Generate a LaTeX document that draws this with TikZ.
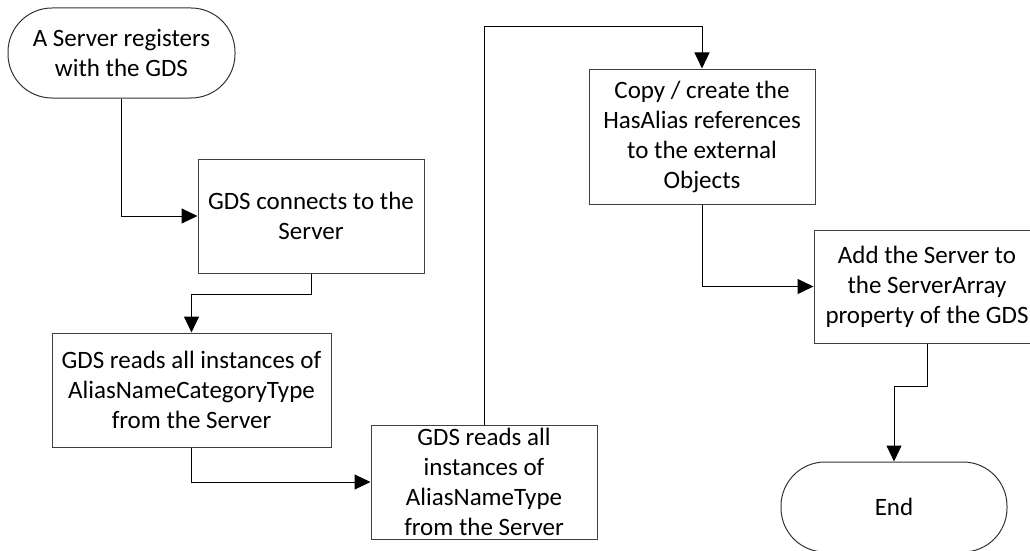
\documentclass[tikz,border=0pt]{standalone}
\usepackage{fontspec}
\setmainfont{Carlito}
\usetikzlibrary{arrows.meta}
\begin{document}
\begin{tikzpicture}[x=1pt,y=-1pt,
  txt/.style={font=\fontsize{25}{30}\selectfont, align=center, inner sep=0pt},
  procbox/.style={txt, draw=black!75, line width=1pt, rectangle},
  termbox/.style={txt, draw=black!80, line width=1pt, rectangle, rounded corners=44pt},
  conn/.style={draw=black, line width=1pt, -{Triangle[length=16pt,width=15pt]}}]
\useasboundingbox (0,0) rectangle (1030,551);
\node[termbox, minimum width=227pt, minimum height=90pt] (start) at (121.5,53) {A Server registers\\with the GDS};
\node[procbox, minimum width=226pt, minimum height=114pt] (b2) at (311,216) {GDS connects to the\\Server};
\node[procbox, minimum width=279pt, minimum height=114pt] (b3) at (191.5,390) {GDS reads all instances of\\AliasNameCategoryType\\from the Server};
\node[procbox, minimum width=226pt, minimum height=114pt] (b4) at (484,482) {GDS reads all\\instances of\\AliasNameType\\from the Server};
\node[procbox, minimum width=226pt, minimum height=135pt] (b5) at (702,136.5) {Copy / create the\\HasAlias references\\to the external\\Objects};
\node[procbox, minimum width=226pt, minimum height=113pt] (b6) at (927,286.5) {Add the Server to\\the ServerArray\\property of the GDS};
\node[termbox, minimum width=226pt, minimum height=90pt] (end) at (894,507) {End};
\coordinate (j1) at (0,294);
\coordinate (j2) at (0,27);
\coordinate (j3) at (0,386);
\draw[conn] (start.south) |- (b2.west);
\draw[conn] (b2.south) -- (b2.south |- j1) -| (b3.north);
\draw[conn] (b3.south) |- (b4.west);
\draw[conn] (b4.north) -- (b4.north |- j2) -| (b5.north);
\draw[conn] (b5.south) |- (b6.west);
\draw[conn] (b6.south) -- (b6.south |- j3) -| (end.north);
\end{tikzpicture}
\end{document}
